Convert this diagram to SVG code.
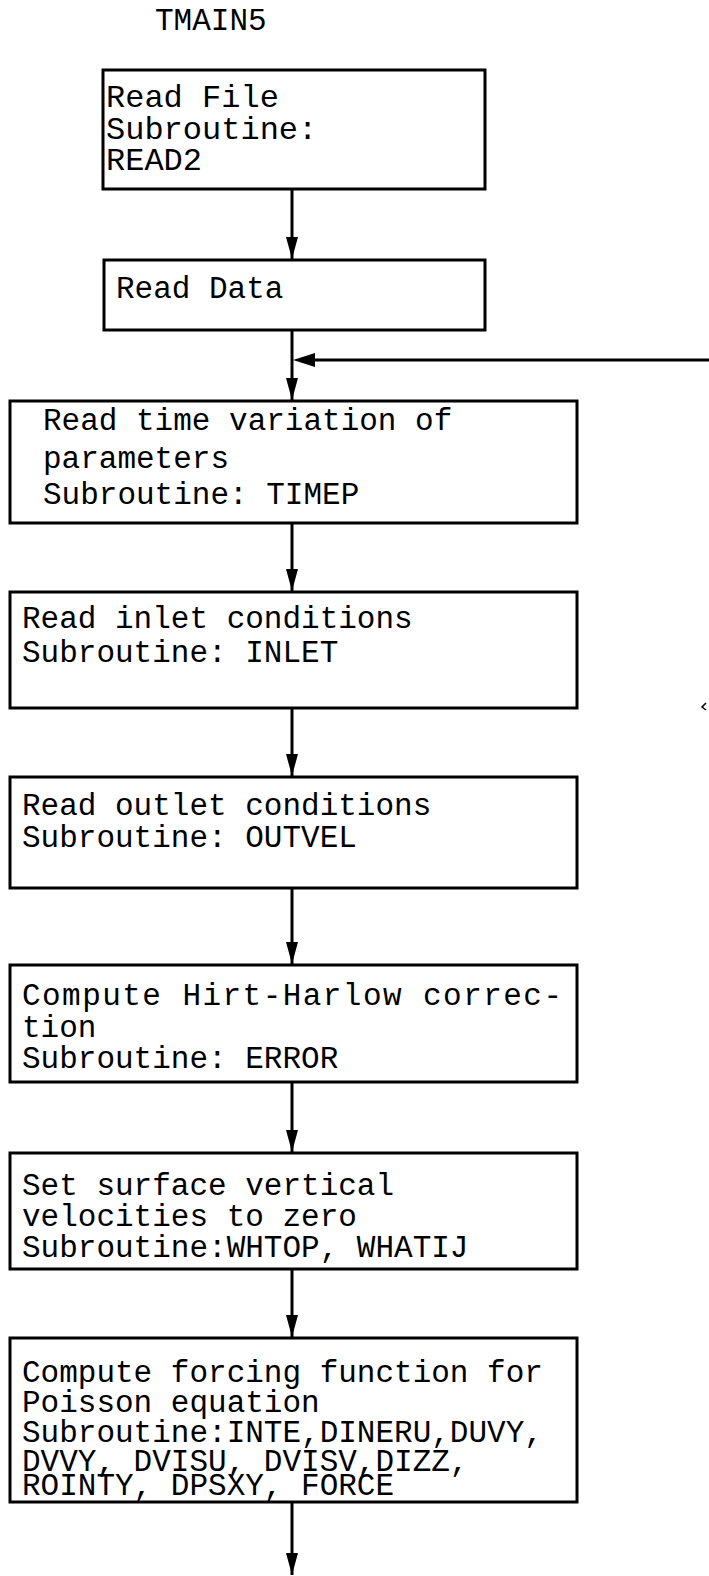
<svg xmlns="http://www.w3.org/2000/svg" width="709" height="1576" viewBox="0 0 709 1576">
<defs>
<style>
.box{fill:#fff;stroke:#000;stroke-width:3}
.t{font-family:"Liberation Mono","DejaVu Sans Mono",monospace;font-size:31px;fill:#000}
.big{font-size:32px}
.ln{stroke:#000;stroke-width:3;fill:none}
</style>
<marker id="ahd" viewBox="0 0 12 22" refX="6" refY="22" markerWidth="12" markerHeight="22" markerUnits="userSpaceOnUse" orient="0">
<path d="M0,0 L12,0 L6,22 z" fill="#000"/>
</marker>
</defs>
<rect width="709" height="1576" fill="#fff"/>
<text class="t" x="155" y="30">TMAIN5</text>
<g id="connectors">
<line class="ln" x1="292" y1="189" x2="292" y2="259" marker-end="url(#ahd)"/>
<line class="ln" x1="292" y1="330" x2="292" y2="400" marker-end="url(#ahd)"/>
<line class="ln" x1="709" y1="360" x2="300" y2="360"/>
<path d="M293,360 L315,353 L315,367 z" fill="#000"/>
<line class="ln" x1="292" y1="523" x2="292" y2="591" marker-end="url(#ahd)"/>
<line class="ln" x1="292" y1="708" x2="292" y2="776" marker-end="url(#ahd)"/>
<line class="ln" x1="292" y1="888" x2="292" y2="964" marker-end="url(#ahd)"/>
<line class="ln" x1="292" y1="1082" x2="292" y2="1152" marker-end="url(#ahd)"/>
<line class="ln" x1="292" y1="1269" x2="292" y2="1337" marker-end="url(#ahd)"/>
<line class="ln" x1="292" y1="1502" x2="292" y2="1575" marker-end="url(#ahd)"/>
<path d="M706,703 L702,707 L706,710" stroke="#000" stroke-width="1.5" fill="none"/>
</g>
<g id="n1">
<rect class="box" x="103" y="70" width="382" height="119"/>
<text class="t big" x="106" y="107">Read File</text>
<text class="t big" x="106" y="139">Subroutine:</text>
<text class="t big" x="106" y="170">READ2</text>
</g>
<g id="n2">
<rect class="box" x="104" y="260" width="381" height="70"/>
<text class="t" x="116" y="298">Read Data</text>
</g>
<g id="n3">
<rect class="box" x="10" y="401" width="567" height="122"/>
<text class="t" x="43" y="430">Read time variation of</text>
<text class="t" x="43" y="468">parameters</text>
<text class="t" x="43" y="504">Subroutine: TIMEP</text>
</g>
<g id="n4">
<rect class="box" x="10" y="592" width="567" height="116"/>
<text class="t" x="22" y="628">Read inlet conditions</text>
<text class="t" x="22" y="662">Subroutine: INLET</text>
</g>
<g id="n5">
<rect class="box" x="10" y="777" width="567" height="111"/>
<text class="t" x="22" y="815">Read outlet conditions</text>
<text class="t" x="22" y="847">Subroutine: OUTVEL</text>
</g>
<g id="n6">
<rect class="box" x="10" y="965" width="567" height="117"/>
<text class="t" x="22" y="1005" textLength="540" lengthAdjust="spacing">Compute Hirt-Harlow correc-</text>
<text class="t" x="22" y="1037">tion</text>
<text class="t" x="22" y="1068">Subroutine: ERROR</text>
</g>
<g id="n7">
<rect class="box" x="10" y="1153" width="567" height="116"/>
<text class="t" x="22" y="1195">Set surface vertical</text>
<text class="t" x="22" y="1226">velocities to zero</text>
<text class="t" x="22" y="1257">Subroutine:WHTOP, WHATIJ</text>
</g>
<g id="n8">
<rect class="box" x="10" y="1338" width="567" height="164"/>
<text class="t" x="22" y="1382">Compute forcing function for</text>
<text class="t" x="22" y="1412">Poisson equation</text>
<text class="t" x="22" y="1442">Subroutine:INTE,DINERU,DUVY,</text>
<text class="t" x="22" y="1471">DVVY, DVISU, DVISV,DIZZ,</text>
<text class="t" x="22" y="1495">ROINTY, DPSXY, FORCE</text>
</g>
</svg>
